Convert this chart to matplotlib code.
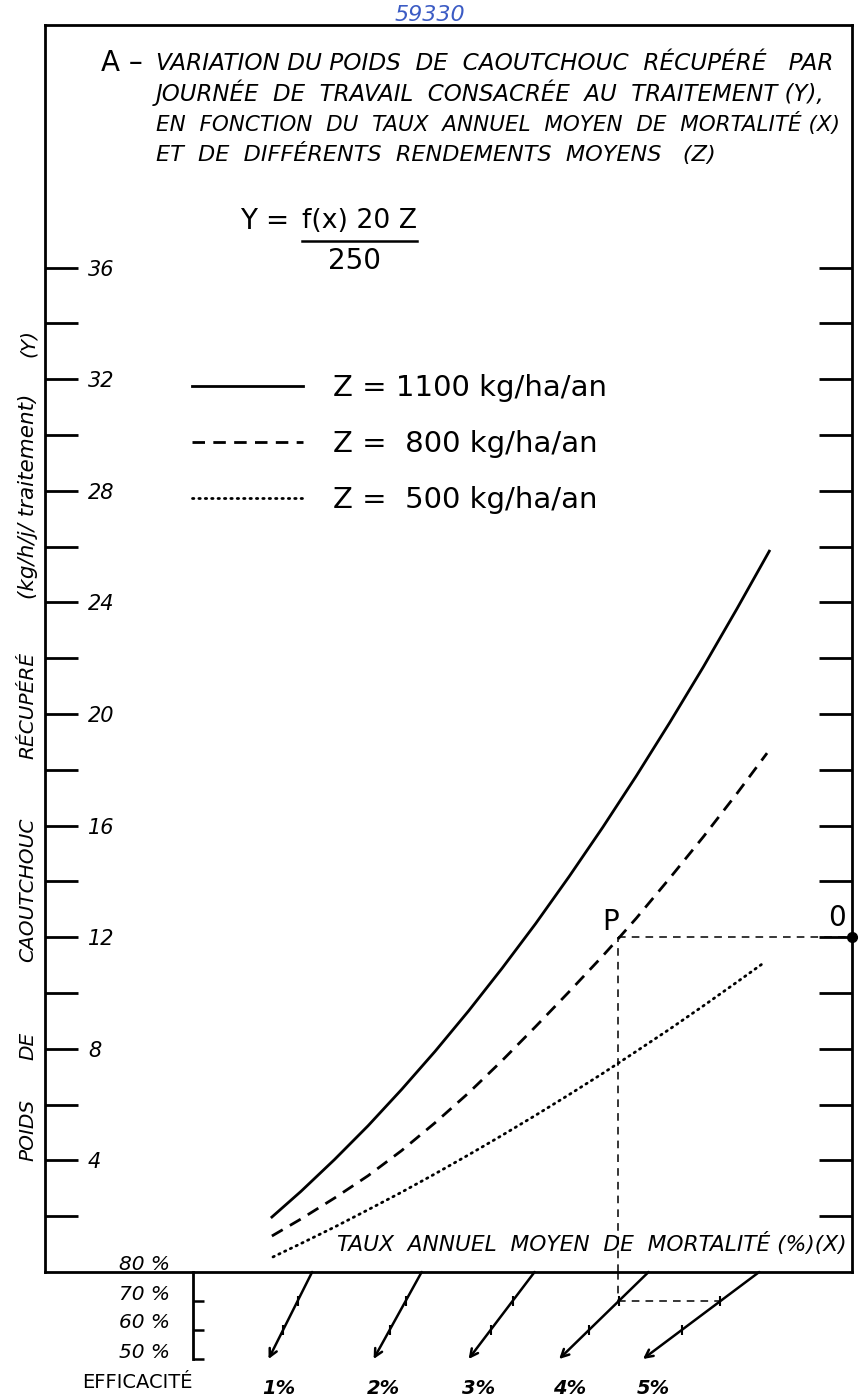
"""
Nomogram: rubber recovered per working day (Y) vs mortality rate (X)
for three mean yields (Z), with the efficacité scale underneath.
Output: out.png (859 x 1400 px)
"""

import numpy as np

import matplotlib
matplotlib.use("Agg")
import matplotlib.pyplot as plt
from matplotlib.lines import Line2D
from matplotlib.transforms import offset_copy, blended_transform_factory


# x is expressed in mortality % as read on the 80 % efficacité line
x_solid = [0.64, 0.90, 1.20, 1.50, 1.80, 2.10, 2.40, 2.70, 3.00, 3.30,
           3.60, 3.90, 4.20, 4.50, 4.80, 5.09]
y_solid = [1.97, 2.89, 4.03, 5.24, 6.54, 7.91, 9.36, 10.89, 12.49, 14.18,
           15.94, 17.78, 19.70, 21.69, 23.77, 25.84]

x_dashed = [0.64, 0.90, 1.20, 1.50, 1.80, 2.10, 2.40, 2.70, 3.00, 3.30,
            3.60, 3.75, 3.90, 4.20, 4.50, 4.80, 5.07]
y_dashed = [1.29, 1.90, 2.65, 3.45, 4.35, 5.35, 6.42, 7.58, 8.80, 10.05,
            11.33, 12.00, 12.68, 14.12, 15.60, 17.15, 18.60]

x_dotted = [0.65, 0.90, 1.20, 1.50, 1.80, 2.10, 2.40, 2.70, 3.00, 3.30,
            3.60, 3.90, 4.20, 4.50, 4.80, 5.04]
y_dotted = [0.54, 1.02, 1.61, 2.23, 2.86, 3.52, 4.20, 4.90, 5.62, 6.36,
            7.12, 7.91, 8.71, 9.54, 10.39, 11.08]

z_labels = ["Z = 1100 kg/ha/an", "Z =  800 kg/ha/an", "Z =  500 kg/ha/an"]

y_major = [4, 8, 12, 16, 20, 24, 28, 32, 36]
y_minor = [2, 6, 10, 14, 18, 22, 26, 30, 34]

mort_labels = ["1%", "2%", "3%", "4%", "5%"]
mort_top = [1.00, 1.98, 2.99, 4.01, 5.00]      # at 80 % efficacité
mort_bottom = [0.61, 1.55, 2.40, 3.21, 3.96]   # at 50 % efficacité

eff_levels = [80, 70, 60, 50]
eff_labels = ["80 %", "70 %", "60 %", "50 %"]
eff_marks = [70, 60]

p_x, p_y, p_eff = 3.74, 12.0, 70

title_lines = [
    "VARIATION DU POIDS  DE  CAOUTCHOUC  RÉCUPÉRÉ   PAR",
    "JOURNÉE  DE  TRAVAIL  CONSACRÉE  AU  TRAITEMENT (Y),",
    "EN  FONCTION  DU  TAUX  ANNUEL  MOYEN  DE  MORTALITÉ (X)",
    "ET  DE  DIFFÉRENTS  RENDEMENTS  MOYENS   (Z)",
]

ylabel_words = ["POIDS", "DE", "CAOUTCHOUC", "RÉCUPÉRÉ", "(kg/h/j/ traitement)", "(Y)"]


W, H = 859, 1400
fig = plt.figure(figsize=(W / 100, H / 100), dpi=100)
renderer = fig.canvas.get_renderer()


def fx(px):
    return px / W


def fy(py):
    return 1 - py / H


def fit(t, width_px):
    w = t.get_window_extent(renderer=renderer).width
    t.set_fontsize(t.get_fontsize() * width_px / w)


# main axes
ax_l, ax_r, ax_t, ax_b = 45, 852, 25, 1272
xlim = (-1.39, 5.83)
ax = fig.add_axes([fx(ax_l), fy(ax_b), (ax_r - ax_l) / W, (ax_b - ax_t) / H])
ax.set_xlim(*xlim)
ax.set_ylim(0, 44.7)
for s in ax.spines.values():
    s.set_linewidth(2)

ax.set_xticks([])
ax.set_yticks(y_major)
ax.set_yticks(y_minor, minor=True)
ax.set_yticklabels([str(v) for v in y_major], fontstyle="italic",
                   fontsize=15, ha="left")
ax.tick_params(axis="y", which="both", direction="in", length=24, width=2,
               left=True, right=True, labelleft=True, labelright=False,
               pad=-31)

ax.plot(x_solid, y_solid, color="black", lw=2.0, label=z_labels[0])
ax.plot(x_dashed, y_dashed, color="black", lw=2.0,
        linestyle=(0, (4.5, 3)), label=z_labels[1])
ax.plot(x_dotted, y_dotted, color="black", lw=2.0,
        linestyle=(0, (0.5, 1.8)), dash_capstyle="round", label=z_labels[2])

# construction lines P -> O
ax.plot([p_x, p_x], [0, p_y], color="black", lw=1.1, linestyle=(0, (5, 4)),
        clip_on=False)
ax.plot([p_x, xlim[1]], [p_y, p_y], color="black", lw=1.1,
        linestyle=(0, (5, 4)))
ax.plot([xlim[1]], [p_y], "o", color="black", ms=7, clip_on=False)
ax.text(p_x, p_y, "P", ha="right", va="bottom", fontsize=20,
        transform=offset_copy(ax.transData, fig=fig, x=1, y=1, units="dots"))
ax.text(xlim[1], p_y, "0", ha="right", va="bottom", fontsize=20,
        transform=offset_copy(ax.transData, fig=fig, x=-6, y=5, units="dots"))

leg = ax.legend(loc="upper left", bbox_to_anchor=(fx(192), fy(374)),
                bbox_transform=fig.transFigure, frameon=False,
                prop={"family": "DejaVu Sans", "size": 21},
                handlelength=3.8, handletextpad=1.03, labelspacing=0.96,
                borderpad=0, borderaxespad=0)

xl = ax.text(0.993, 0.6, "TAUX  ANNUEL  MOYEN  DE  MORTALITÉ (%)(X)",
             transform=blended_transform_factory(ax.transAxes, ax.transData),
             ha="right", va="bottom", fontstyle="italic", fontsize=15)
fit(xl, 513)

# rotated y label, one word at a time
ylab_tr = blended_transform_factory(fig.transFigure, ax.transData)
ylab_pos = [5.1, 8.1, 13.7, 20.3, 27.8, 33.3]
ylab_size = [14.5, 14.5, 14.5, 14.5, 15.5, 14.5]
for word, yv, sz in zip(ylabel_words, ylab_pos, ylab_size):
    ax.text(fx(28), yv, word, rotation=90, ha="center", va="center",
            fontstyle="italic", fontsize=sz, transform=ylab_tr)

# efficacité nomogram under the axis
eff_b = 1359
ax2 = fig.add_axes([fx(ax_l), fy(eff_b), (ax_r - ax_l) / W, (eff_b - ax_b) / H])
ax2.set_xlim(*xlim)
ax2.set_ylim(50, 80)
ax2.patch.set_visible(False)
for s in ["top", "right", "bottom"]:
    ax2.spines[s].set_visible(False)
bracket_x = -0.065
ax2.spines["left"].set_position(("data", bracket_x))
ax2.spines["left"].set_linewidth(2)
ax2.set_xticks([])
ax2.set_yticks([50, 60, 70])
ax2.tick_params(axis="y", direction="in", length=8, width=1.8,
                labelleft=False)

for lev, lab in zip(eff_levels, eff_labels):
    ax2.text(bracket_x, lev, lab, ha="right", va="center",
             fontstyle="italic", fontsize=14.5,
             transform=offset_copy(ax2.transData, fig=fig, x=-23, y=7,
                                   units="dots"))

for top, bot, lab in zip(mort_top, mort_bottom, mort_labels):
    ax2.annotate("", xy=(bot, 50), xytext=(top, 80), annotation_clip=False,
                 arrowprops=dict(arrowstyle="->,head_length=0.55,head_width=0.28",
                                 lw=1.8, color="black", shrinkA=0, shrinkB=0))
    for m in eff_marks:
        xm = np.interp(m, [50, 80], [bot, top])
        ax2.plot([xm], [m], marker="|", ms=7, mew=1.5, color="black",
                 clip_on=False)
    ax2.text(bot + 0.09, 50, lab, ha="center", va="center",
             fontstyle="italic", fontweight="bold", fontsize=14,
             transform=offset_copy(ax2.transData, fig=fig, y=-29,
                                   units="dots"))

x5 = np.interp(p_eff, [50, 80], [mort_bottom[4], mort_top[4]])
ax2.plot([p_x, p_x], [80, p_eff], color="black", lw=1.1,
         linestyle=(0, (5, 4)), clip_on=False)
ax2.plot([p_x, x5], [p_eff, p_eff], color="black", lw=1.1,
         linestyle=(0, (5, 4)), clip_on=False)

eff_title = fig.text(fx(137), fy(1382), "EFFICACITÉ", ha="center",
                     va="center", fontsize=14)
fit(eff_title, 111)

# title block
fig.text(fx(101), fy(63), "A –", ha="left", va="center", fontsize=20)
title_y = [63, 93, 124, 153]
title_w = [680, 669, 685, 562]
for line, ty, tw in zip(title_lines, title_y, title_w):
    t = fig.text(fx(156), fy(ty), line, ha="left", va="center",
                 fontstyle="italic", fontsize=16)
    fit(t, tw)

# formula
fig.text(fx(240), fy(221), "Y =", ha="left", va="center", fontsize=20)
num = fig.text(fx(359.5), fy(221), "f(x) 20 Z", ha="center", va="center",
               fontsize=20)
fit(num, 115)
fig.add_artist(Line2D([fx(302), fx(417)], [fy(241), fy(241)],
                      color="black", lw=1.8))
fig.text(fx(355), fy(261), "250", ha="center", va="center", fontsize=20)

# archive number written above the frame
fig.text(fx(430), fy(21), "59330", ha="center", va="baseline",
         fontstyle="italic", fontsize=16, color="#3b5bc4")

fig.savefig("out.png", dpi=100)
